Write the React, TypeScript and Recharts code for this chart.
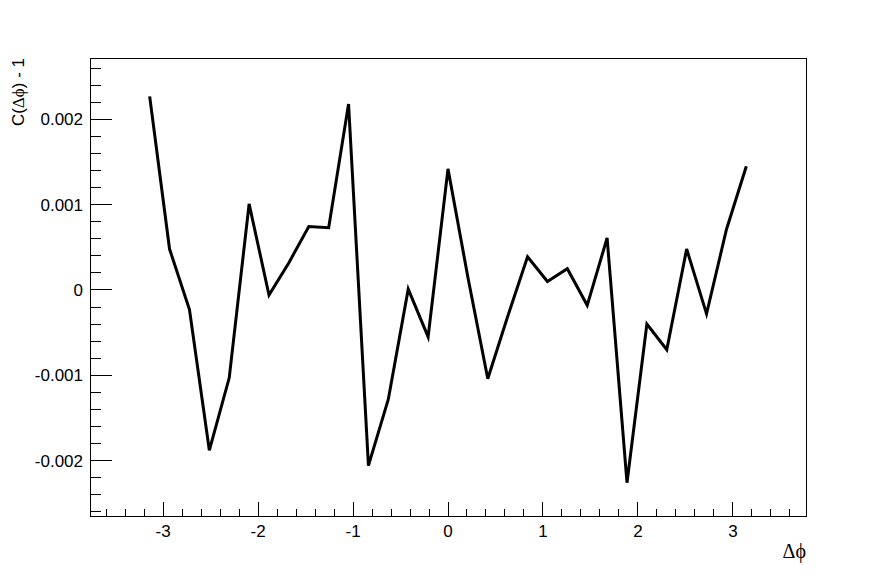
import React from 'react';
import { LineChart, Line, XAxis, YAxis, ReferenceArea } from 'recharts';

const dphi = [
  -3.1416, -2.9322, -2.7227, -2.5133, -2.3038, -2.0944, -1.885, -1.6755,
  -1.4661, -1.2566, -1.0472, -0.8378, -0.6283, -0.4189, -0.2094, 0,
  0.2094, 0.4189, 0.6283, 0.8378, 1.0472, 1.2566, 1.4661, 1.6755,
  1.885, 2.0944, 2.3038, 2.5133, 2.7227, 2.9322, 3.1416,
];

const corr = [
  0.00227, 0.00048, -0.00023, -0.00188, -0.00103, 0.00101, -0.00006, 0.00032,
  0.000745, 0.00073, 0.00218, -0.00206, -0.00128, 0.00001, -0.00055, 0.00142,
  0.00015, -0.00104, -0.00031, 0.00039, 0.0001, 0.00025, -0.00018, 0.00061,
  -0.00226, -0.0004, -0.0007, 0.00048, -0.00028, 0.00071, 0.00145,
];

const xTicks = [
  -3.6, -3.4, -3.2, -3, -2.8, -2.6, -2.4, -2.2, -2, -1.8, -1.6, -1.4, -1.2,
  -1, -0.8, -0.6, -0.4, -0.2, 0, 0.2, 0.4, 0.6, 0.8, 1, 1.2, 1.4, 1.6, 1.8,
  2, 2.2, 2.4, 2.6, 2.8, 3, 3.2, 3.4, 3.6,
];
const xMajor = [-3, -2, -1, 0, 1, 2, 3];
const xMajorLabels = ['-3', '-2', '-1', '0', '1', '2', '3'];

const yTicks = [
  -0.0026, -0.0024, -0.0022, -0.002, -0.0018, -0.0016, -0.0014, -0.0012,
  -0.001, -0.0008, -0.0006, -0.0004, -0.0002, 0, 0.0002, 0.0004, 0.0006,
  0.0008, 0.001, 0.0012, 0.0014, 0.0016, 0.0018, 0.002, 0.0022, 0.0024, 0.0026,
];
const yMajor = [-0.002, -0.001, 0, 0.001, 0.002];
const yMajorLabels = ['-0.002', '-0.001', '0', '0.001', '0.002'];

const xDomain = [-3.77, 3.77];
const yDomain = [-0.00265, 0.00272];

const data = dphi.map((x, i) => ({ x, y: corr[i] }));

const W = 896;
const H = 574;
const SANS = '"Liberation Sans", Arial, Helvetica, sans-serif';
const SERIF = '"Liberation Serif", "DejaVu Serif", "Times New Roman", serif';

const XTick = (props: any) => {
  const { x, y, payload } = props;
  const v = payload.value;
  const idx = xMajor.findIndex((m) => Math.abs(m - v) < 1e-6);
  const len = idx >= 0 ? 14 : 7;
  return (
    <g>
      <line x1={x} x2={x} y1={y} y2={y - len} stroke="#000" strokeWidth={1} shapeRendering="crispEdges" />
      {idx >= 0 && (
        <text x={x} y={y + 21} textAnchor="middle" fontFamily={SANS} fontSize={17} fill="#000">
          {xMajorLabels[idx]}
        </text>
      )}
    </g>
  );
};

const YTick = (props: any) => {
  const { x, y, payload } = props;
  const v = payload.value;
  const idx = yMajor.findIndex((m) => Math.abs(m - v) < 1e-9);
  const len = idx >= 0 ? 22 : 11;
  return (
    <g>
      <line x1={x} x2={x + len} y1={y} y2={y} stroke="#000" strokeWidth={1} shapeRendering="crispEdges" />
      {idx >= 0 && (
        <text x={x - 7} y={y + 6} textAnchor="end" fontFamily={SANS} fontSize={17} fill="#000">
          {yMajorLabels[idx]}
        </text>
      )}
    </g>
  );
};

export default function App() {
  return (
    <div style={{ position: 'absolute', left: 0, top: 0, width: W, height: H, background: '#fff' }}>
      <LineChart
        width={W}
        height={H}
        data={data}
        margin={{ top: 58, right: 90, bottom: 0, left: 0 }}
      >
        <XAxis
          dataKey="x"
          type="number"
          domain={xDomain}
          ticks={xTicks}
          interval={0}
          tickSize={0}
          tickMargin={0}
          tickLine={false}
          axisLine={false}
          height={58}
          tick={<XTick />}
          allowDataOverflow
        />
        <YAxis
          type="number"
          domain={yDomain}
          ticks={yTicks}
          interval={0}
          tickSize={0}
          tickMargin={0}
          tickLine={false}
          axisLine={false}
          width={90}
          tick={<YTick />}
          allowDataOverflow
        />
        <ReferenceArea
          x1={xDomain[0]}
          x2={xDomain[1]}
          y1={yDomain[0]}
          y2={yDomain[1]}
          fill="none"
          fillOpacity={0}
          stroke="#000"
          strokeWidth={1}
          ifOverflow="visible"
          shapeRendering="crispEdges"
        />
        <Line
          type="linear"
          dataKey="y"
          stroke="#000"
          strokeWidth={3}
          dot={false}
          isAnimationActive={false}
        />
      </LineChart>
      <svg
        width={W}
        height={H}
        style={{ position: 'absolute', left: 0, top: 0, pointerEvents: 'none' }}
      >
        <text
          transform="translate(24,58) rotate(-90)"
          textAnchor="end"
          fontFamily={SANS}
          fontSize={17}
          fill="#000"
        >
          C(<tspan fontFamily={SERIF}>Δϕ</tspan>) - 1
        </text>
        <text x={806} y={558} textAnchor="end" fontFamily={SERIF} fontSize={20} fill="#000">
          Δϕ
        </text>
      </svg>
    </div>
  );
}
